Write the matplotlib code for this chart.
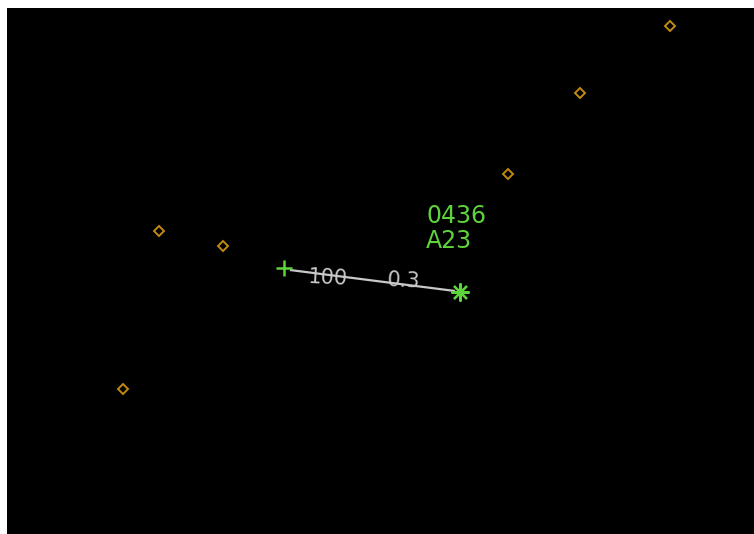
import numpy as np
import matplotlib
matplotlib.use("Agg")
import matplotlib.pyplot as plt

# screen positions (pixels)
fix_x = [670, 580, 508, 159, 223, 123]
fix_y = [26, 93, 174, 231, 246, 389]

track_x = [290, 455]
track_y = [270, 291]

start_pt = (284, 268)
end_pt = (460, 292)

label_lines = ["0436", "A23"]
speed_text = "100"
alt_text = "0.3"

green = '#5ed43c'
orange = '#c08a10'
grey = '#c8c8c8'

fig = plt.figure(figsize=(7.54, 5.34), dpi=100)
fig.patch.set_facecolor('white')
ax = fig.add_axes([7/754, 0, 747/754, 526/534])
ax.set_facecolor('black')
ax.set_xlim(7, 754)
ax.set_ylim(534, 8)
ax.set_xticks([])
ax.set_yticks([])
for s in ax.spines.values():
    s.set_visible(False)

# fixes
ax.plot(fix_x, fix_y, linestyle='none', marker='D', markersize=5,
        markerfacecolor='none', markeredgecolor=orange, markeredgewidth=1.4)

# track line
ax.plot(track_x, track_y, color=grey, linewidth=1.6, solid_capstyle='butt')

# start and end markers
ax.plot(*start_pt, marker='+', markersize=11, markeredgewidth=1.8, color=green)
ax.plot(*end_pt, marker=(8, 2, 0), markersize=13, markeredgewidth=1.6, color=green)

# data block
ax.text(426, 204, label_lines[0], color=green, fontsize=17,
        family='DejaVu Sans', va='top', ha='left')
ax.text(426, 229, label_lines[1], color=green, fontsize=17,
        family='DejaVu Sans', va='top', ha='left')

# speed / altitude along the line
ang = -np.degrees(np.arctan2(track_y[1] - track_y[0], track_x[1] - track_x[0]))
ax.text(328, 278, speed_text, color=grey, fontsize=15, family='DejaVu Sans',
        ha='center', va='center', rotation=ang * 0.4)
ax.text(403, 281, alt_text, color=grey, fontsize=15, family='DejaVu Sans',
        ha='center', va='center', rotation=ang * 0.4)

fig.savefig('out.png', dpi=100, facecolor=fig.get_facecolor())
